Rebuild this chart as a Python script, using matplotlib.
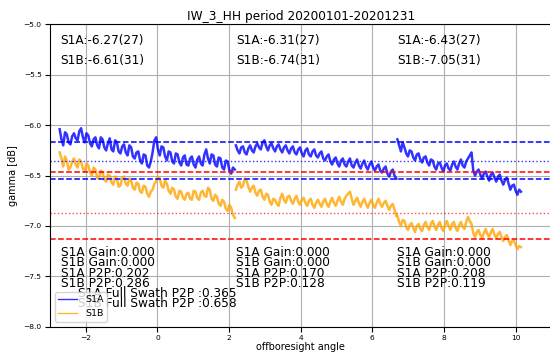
import numpy as np
import matplotlib
matplotlib.use('Agg')
import matplotlib.pyplot as plt

# sub-swath angle ranges (offboresight angle)
swath_ranges = [(-2.73, 2.16), (2.19, 6.67), (6.70, 10.15)]

# gamma [dB], one list per sub-swath
s1a_sw1 = [-6.04, -6.14, -6.20, -6.07, -6.09, -6.17, -6.19, -6.11, -6.08, -6.13,
           -6.15, -6.06, -6.03, -6.12, -6.17, -6.08, -6.10, -6.18, -6.21, -6.14,
           -6.12, -6.20, -6.23, -6.12, -6.14, -6.22, -6.25, -6.18, -6.13, -6.24,
           -6.26, -6.15, -6.17, -6.26, -6.28, -6.21, -6.19, -6.27, -6.30, -6.20,
           -6.22, -6.31, -6.33, -6.27, -6.26, -6.35, -6.38, -6.29, -6.30, -6.40,
           -6.42, -6.36, -6.27, -6.15, -6.12, -6.24, -6.30, -6.21, -6.22, -6.31,
           -6.35, -6.26, -6.27, -6.36, -6.38, -6.28, -6.29, -6.37, -6.40, -6.32,
           -6.30, -6.39, -6.40, -6.33, -6.31, -6.39, -6.42, -6.34, -6.31, -6.38,
           -6.40, -6.29, -6.24, -6.33, -6.38, -6.29, -6.30, -6.39, -6.41, -6.32,
           -6.33, -6.42, -6.44, -6.35, -6.36, -6.45, -6.48, -6.42, -6.44]
s1a_sw2 = [-6.20, -6.25, -6.28, -6.22, -6.21, -6.27, -6.29, -6.23, -6.20, -6.25,
           -6.27, -6.21, -6.18, -6.22, -6.24, -6.17, -6.15, -6.21, -6.25, -6.20,
           -6.18, -6.23, -6.26, -6.21, -6.19, -6.24, -6.27, -6.22, -6.20, -6.25,
           -6.28, -6.23, -6.21, -6.27, -6.29, -6.24, -6.22, -6.28, -6.31, -6.25,
           -6.23, -6.29, -6.31, -6.26, -6.24, -6.30, -6.32, -6.28, -6.26, -6.33,
           -6.35, -6.31, -6.29, -6.36, -6.39, -6.34, -6.32, -6.38, -6.41, -6.35,
           -6.33, -6.39, -6.41, -6.36, -6.33, -6.40, -6.42, -6.37, -6.34, -6.40,
           -6.43, -6.38, -6.35, -6.41, -6.44, -6.39, -6.36, -6.42, -6.45, -6.41,
           -6.39, -6.45, -6.47, -6.43, -6.41, -6.48, -6.51, -6.46, -6.44, -6.50,
           -6.53]
s1a_sw3 = [-6.14, -6.20, -6.26, -6.17, -6.22, -6.28, -6.31, -6.25, -6.26, -6.32,
           -6.35, -6.29, -6.28, -6.34, -6.37, -6.32, -6.31, -6.37, -6.40, -6.34,
           -6.35, -6.41, -6.44, -6.38, -6.37, -6.42, -6.46, -6.40, -6.38, -6.43,
           -6.45, -6.39, -6.36, -6.41, -6.44, -6.38, -6.34, -6.40, -6.42, -6.36,
           -6.33, -6.30, -6.27, -6.45, -6.50, -6.46, -6.44, -6.49, -6.53, -6.48,
           -6.46, -6.51, -6.55, -6.49, -6.47, -6.52, -6.56, -6.51, -6.49, -6.55,
           -6.59, -6.54, -6.52, -6.58, -6.64, -6.60, -6.59, -6.65, -6.69, -6.64,
           -6.66]

s1b_sw1 = [-6.27, -6.33, -6.41, -6.31, -6.35, -6.44, -6.42, -6.36, -6.33, -6.39,
           -6.42, -6.34, -6.36, -6.43, -6.46, -6.38, -6.40, -6.47, -6.50, -6.42,
           -6.44, -6.52, -6.53, -6.45, -6.47, -6.54, -6.56, -6.49, -6.50, -6.57,
           -6.59, -6.51, -6.53, -6.61, -6.60, -6.52, -6.51, -6.58, -6.60, -6.53,
           -6.55, -6.62, -6.64, -6.57, -6.58, -6.66, -6.67, -6.60, -6.61, -6.68,
           -6.71, -6.66, -6.64, -6.58, -6.56, -6.51, -6.53, -6.60, -6.62, -6.55,
           -6.58, -6.65, -6.68, -6.62, -6.64, -6.71, -6.73, -6.65, -6.66, -6.72,
           -6.74, -6.68, -6.67, -6.73, -6.74, -6.65, -6.66, -6.72, -6.74, -6.67,
           -6.65, -6.70, -6.71, -6.62, -6.64, -6.73, -6.75, -6.69, -6.71, -6.78,
           -6.80, -6.74, -6.76, -6.83, -6.85, -6.79, -6.82, -6.89, -6.92]
s1b_sw2 = [-6.64, -6.59, -6.56, -6.62, -6.60, -6.53, -6.55, -6.61, -6.66, -6.62,
           -6.60, -6.67, -6.70, -6.65, -6.64, -6.71, -6.74, -6.68, -6.69, -6.76,
           -6.79, -6.73, -6.74, -6.78, -6.80, -6.72, -6.68, -6.74, -6.77, -6.71,
           -6.70, -6.75, -6.78, -6.73, -6.70, -6.76, -6.79, -6.74, -6.72, -6.77,
           -6.80, -6.75, -6.73, -6.79, -6.82, -6.77, -6.74, -6.78, -6.81, -6.76,
           -6.73, -6.78, -6.81, -6.76, -6.72, -6.77, -6.80, -6.75, -6.71, -6.76,
           -6.79, -6.73, -6.70, -6.68, -6.66, -6.73, -6.79, -6.75, -6.72, -6.77,
           -6.81, -6.76, -6.73, -6.78, -6.82, -6.77, -6.74, -6.79, -6.82, -6.77,
           -6.73, -6.78, -6.81, -6.77, -6.75, -6.80, -6.84, -6.80, -6.78, -6.84,
           -6.90]
s1b_sw3 = [-6.90, -6.96, -7.00, -6.94, -6.95, -7.01, -7.04, -6.99, -6.97, -7.02,
           -7.06, -7.00, -6.98, -7.03, -7.05, -6.99, -6.96, -7.01, -7.04, -6.98,
           -6.95, -7.00, -7.04, -6.99, -6.96, -7.02, -7.05, -6.99, -6.95, -7.00,
           -7.04, -6.98, -6.96, -7.02, -7.05, -6.99, -6.96, -7.01, -7.03, -6.96,
           -6.91, -6.95, -6.98, -7.07, -7.11, -7.06, -7.04, -7.09, -7.12, -7.07,
           -7.03, -7.08, -7.11, -7.06, -7.03, -7.09, -7.12, -7.08, -7.06, -7.11,
           -7.15, -7.11, -7.09, -7.14, -7.19, -7.15, -7.14, -7.19, -7.23, -7.20,
           -7.21]

s1a_data = [s1a_sw1, s1a_sw2, s1a_sw3]
s1b_data = [s1b_sw1, s1b_sw2, s1b_sw3]

# reference lines
s1a_lim = [-6.168, -6.533]
s1a_ref = -6.36
s1b_lim = [-6.467, -7.125]
s1b_ref = -6.87

# annotations per sub-swath
text_x = [-2.7, 2.2, 6.69]
s1a_mean = [-6.27, -6.31, -6.43]
s1b_mean = [-6.61, -6.74, -7.05]
n_s1a = 27
n_s1b = 31
s1a_gain = [0.0, 0.0, 0.0]
s1b_gain = [0.0, 0.0, 0.0]
s1a_p2p = [0.202, 0.170, 0.208]
s1b_p2p = [0.286, 0.128, 0.119]
s1a_full_p2p = 0.365
s1b_full_p2p = 0.658

fig = plt.figure(figsize=(5.5, 3.54), dpi=100)
ax = fig.add_axes([0.0909, 0.0771, 0.9116, 0.8537])

for i, (x0, x1) in enumerate(swath_ranges):
    xa = np.linspace(x0, x1, len(s1a_data[i]))
    xb = np.linspace(x0, x1, len(s1b_data[i]))
    ax.plot(xa, s1a_data[i], color='blue', alpha=0.8, lw=1.8,
            label='S1A' if i == 0 else None)
    ax.plot(xb, s1b_data[i], color='orange', alpha=0.8, lw=1.8,
            label='S1B' if i == 0 else None)

for v in s1a_lim:
    ax.axhline(v, color='blue', ls='--', lw=1.1)
ax.axhline(s1a_ref, color='blue', ls=':', lw=1.0, alpha=0.8)
for v in s1b_lim:
    ax.axhline(v, color='red', ls='--', lw=1.1)
ax.axhline(s1b_ref, color='red', ls=':', lw=1.0, alpha=0.7)

fs = 8.7
for i, x in enumerate(text_x):
    ax.text(x, -5.16, f"S1A:{s1a_mean[i]:.2f}({n_s1a})", fontsize=fs, va='center')
    ax.text(x, -5.36, f"S1B:{s1b_mean[i]:.2f}({n_s1b})", fontsize=fs, va='center')
    ax.text(x, -7.267, f"S1A Gain:{s1a_gain[i]:.3f}", fontsize=fs, va='center')
    ax.text(x, -7.367, f"S1B Gain:{s1b_gain[i]:.3f}", fontsize=fs, va='center')
    ax.text(x, -7.467, f"S1A P2P:{s1a_p2p[i]:.3f}", fontsize=fs, va='center')
    ax.text(x, -7.567, f"S1B P2P:{s1b_p2p[i]:.3f}", fontsize=fs, va='center')
ax.text(-2.22, -7.667, f"S1A Full Swath P2P :{s1a_full_p2p:.3f}", fontsize=fs, va='center')
ax.text(-2.22, -7.767, f"S1B Full Swath P2P :{s1b_full_p2p:.3f}", fontsize=fs, va='center')

ax.set_xlim(-3, 11)
ax.set_ylim(-8, -5)
ax.grid(True)
ax.tick_params(labelsize=5.4, pad=2.5)
ax.set_xlabel('offboresight angle', fontsize=7, labelpad=0.5)
ax.set_ylabel('gamma [dB]', fontsize=7)
ax.set_title('IW_3_HH period 20200101-20201231', fontsize=8.7, pad=3)
leg = ax.legend(loc='lower left', fontsize=6.8)
for ln in leg.get_lines():
    ln.set_linewidth(1.0)

fig.savefig('out.png', dpi=100)
